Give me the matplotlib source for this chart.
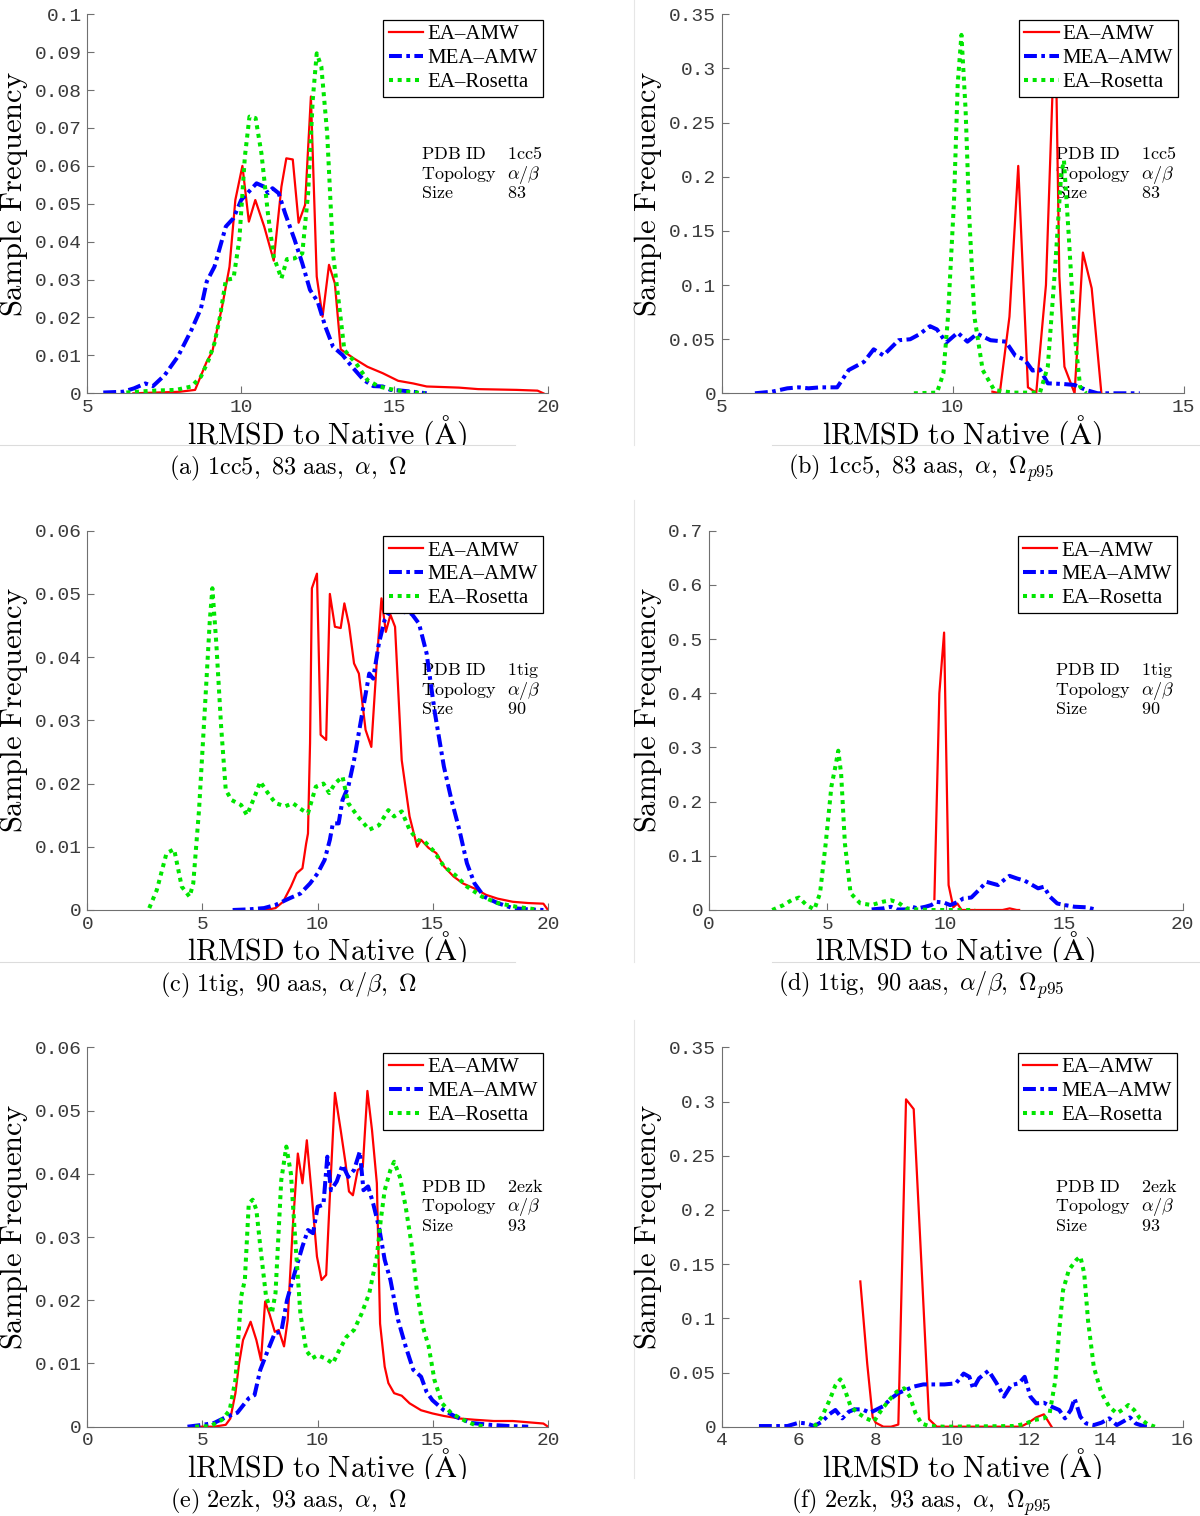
"""
Six-panel lRMSD sample-frequency figure (EA-AMW / MEA-AMW / EA-Rosetta).
Writes out.png at 1200x1516.
"""

import numpy as np
import matplotlib
matplotlib.use("Agg")
import matplotlib.pyplot as plt
from matplotlib.lines import Line2D
from matplotlib.transforms import Bbox, TransformedBbox

# ── data ─────────────────────────────────────────────────────────────────────
# (a) 1cc5, Omega
A_EA_X = [6.5, 8.0, 8.51, 8.89, 9.07, 9.39, 9.63, 9.82, 10.05, 10.26, 10.47, 10.76, 11.07, 11.32,
          11.48, 11.69, 11.88, 12.09, 12.28, 12.47, 12.66, 12.87, 13.06, 13.25, 13.68, 14.12,
          14.62, 15.12, 15.61, 16.05, 17.1, 17.73, 18.36, 18.98, 19.66, 19.85]
A_EA_Y = [0, 0.0004, 0.0009, 0.0084, 0.011, 0.0229, 0.0334, 0.051, 0.060, 0.0453, 0.051, 0.044,
          0.035, 0.0545, 0.062, 0.0617, 0.045, 0.0497, 0.0783, 0.0308, 0.0202, 0.0339, 0.029,
          0.0116, 0.0092, 0.007, 0.0053, 0.0033, 0.0026, 0.0018, 0.0015, 0.0011, 0.001, 0.0009,
          0.0007, 0.0]
A_MEA_X = [5.52, 6.15, 6.52, 6.89, 7.14, 7.52, 7.95, 8.39, 8.70, 8.89, 9.14, 9.51, 9.76, 10.01,
           10.26, 10.51, 10.76, 10.88, 11.03, 11.23, 11.44, 11.75, 12.0, 12.25, 12.5, 12.75, 13.0,
           13.31, 13.62, 14.0, 14.31, 14.62, 14.87, 15.24, 15.61, 16.05]
A_MEA_Y = [0.0002, 0.0004, 0.0013, 0.0026, 0.0019, 0.0048, 0.0097, 0.0167, 0.0224, 0.0295, 0.0334,
           0.044, 0.0462, 0.051, 0.0532, 0.0554, 0.0545, 0.0528, 0.0541, 0.0528, 0.0475, 0.0405,
           0.0343, 0.0273, 0.0242, 0.0176, 0.0123, 0.0101, 0.007, 0.0035, 0.0019, 0.0018, 0.0009,
           0.0007, 0.0004, 0.0]
A_ROS_X = [6.27, 7.14, 7.89, 8.39, 8.70, 8.95, 9.14, 9.32, 9.51, 9.76, 9.95, 10.13, 10.28, 10.48,
           10.67, 10.88, 11.07, 11.32, 11.5, 11.75, 12.0, 12.19, 12.34, 12.47, 12.62, 12.81, 13.0,
           13.18, 13.37, 13.75, 14.12, 14.49, 14.87, 15.37, 15.99]
A_ROS_Y = [0.0002, 0.0007, 0.0009, 0.0018, 0.0044, 0.0088, 0.0132, 0.0202, 0.0299, 0.0303, 0.0405,
           0.0624, 0.073, 0.0726, 0.0633, 0.0475, 0.036, 0.0303, 0.0354, 0.0356, 0.0369, 0.0528,
           0.0774, 0.0897, 0.0862, 0.0686, 0.0369, 0.0246, 0.0114, 0.0079, 0.0035, 0.0018, 0.0011,
           0.0004, 0.0]

# (b) 1cc5, Omega_p95
B_EA_X = [10.86, 11.02, 11.23, 11.42, 11.63, 11.81, 12.02, 12.17, 12.24, 12.31, 12.42, 12.64,
          12.82, 13.01, 13.22]
B_EA_Y = [0.0015, 0.0, 0.0708, 0.21, 0.0055, 0.0006, 0.10, 0.288, 0.30, 0.108, 0.0246, 0.0,
          0.13, 0.097, 0.0]
B_MEA_X = [5.72, 6.09, 6.42, 6.67, 6.88, 7.13, 7.50, 7.75, 8.08, 8.29, 8.50, 8.83, 9.08, 9.28,
           9.51, 9.66, 9.86, 10.11, 10.32, 10.53, 10.82, 11.15, 11.36, 11.56, 11.73, 11.89, 12.06,
           12.39, 12.64, 12.89, 13.14, 14.05]
B_MEA_Y = [0.0, 0.0015, 0.0046, 0.0055, 0.0046, 0.0055, 0.0055, 0.0215, 0.029, 0.0406, 0.035,
           0.049, 0.0499, 0.0545, 0.062, 0.059, 0.0468, 0.056, 0.0477, 0.055, 0.049, 0.0477,
           0.0345, 0.031, 0.021, 0.022, 0.0092, 0.0086, 0.0077, 0.003, 0.0, 0.0]
B_ROS_X = [9.16, 9.66, 9.80, 9.90, 10.03, 10.11, 10.19, 10.28, 10.36, 10.47, 10.65, 10.90, 11.31,
           11.89, 12.06, 12.22, 12.35, 12.41, 12.51, 12.64, 12.76, 12.89]
B_ROS_Y = [0.0, 0.0006, 0.0185, 0.071, 0.178, 0.286, 0.331, 0.262, 0.163, 0.071, 0.0215, 0.003,
           0.0006, 0.0006, 0.0246, 0.117, 0.203, 0.215, 0.148, 0.055, 0.006, 0.0]

# (c) 1tig, Omega
C_EA_X = [7.76, 8.17, 8.50, 8.84, 9.09, 9.34, 9.50, 9.58, 9.67, 9.75, 9.97, 10.13, 10.37, 10.53,
          10.75, 11.00, 11.16, 11.36, 11.58, 11.79, 12.08, 12.33, 12.57, 12.77, 12.96, 13.16,
          13.36, 13.65, 13.99, 14.32, 14.49, 14.82, 15.15, 15.48, 15.90, 16.31, 16.81, 17.31,
          17.81, 18.47, 19.14, 19.80, 20.0]
C_EA_Y = [0.0, 0.0003, 0.0013, 0.0037, 0.0058, 0.0066, 0.0105, 0.0121, 0.0264, 0.0509, 0.0532,
          0.0277, 0.0269, 0.050, 0.0448, 0.0446, 0.0485, 0.0451, 0.039, 0.0374, 0.0285, 0.0258,
          0.0395, 0.0493, 0.044, 0.0467, 0.0448, 0.0237, 0.0148, 0.010, 0.0111, 0.0098, 0.009,
          0.0069, 0.0053, 0.0042, 0.0034, 0.0024, 0.0018, 0.0013, 0.0011, 0.001, 0.0]
C_MEA_X = [6.31, 7.01, 7.67, 8.17, 8.75, 9.25, 9.67, 10.0, 10.30, 10.53, 10.66, 10.91, 11.08,
           11.33, 11.58, 11.91, 12.24, 12.41, 12.66, 12.91, 13.16, 13.65, 14.07, 14.40, 14.73,
           15.07, 15.48, 15.81, 16.15, 16.48, 16.81, 17.23, 17.81, 18.47, 19.14, 19.80]
C_MEA_Y = [0.0, 0.0001, 0.0003, 0.0008, 0.0018, 0.0026, 0.0042, 0.0058, 0.0079, 0.0111, 0.0137,
           0.0137, 0.0174, 0.0195, 0.0237, 0.0306, 0.0374, 0.0366, 0.0422, 0.0459, 0.0474, 0.0472,
           0.0469, 0.0453, 0.0406, 0.0316, 0.0227, 0.0174, 0.0127, 0.0074, 0.0042, 0.0021,
           0.0011, 0.0003, 0.0001, 0.0]
C_ROS_X = [2.69, 3.02, 3.44, 3.77, 4.10, 4.44, 4.60, 4.85, 5.10, 5.32, 5.43, 5.60, 5.81, 6.01,
           6.26, 6.68, 6.93, 7.26, 7.51, 7.84, 8.17, 8.59, 8.92, 9.34, 9.58, 9.92, 10.25, 10.50,
           10.75, 11.08, 11.33, 11.74, 12.24, 12.66, 13.07, 13.32, 13.65, 13.99, 14.32, 14.65,
           15.07, 15.48, 15.98, 16.48, 17.14, 17.81, 18.64, 19.47]
C_ROS_Y = [0.0003, 0.0032, 0.009, 0.0096, 0.0037, 0.0021, 0.0042, 0.0158, 0.0316, 0.0459, 0.0509,
           0.0422, 0.029, 0.019, 0.0174, 0.0166, 0.015, 0.0179, 0.0203, 0.0185, 0.0169, 0.0164,
           0.0169, 0.0158, 0.0153, 0.0195, 0.020, 0.0185, 0.020, 0.0211, 0.0169, 0.0148, 0.0127,
           0.0134, 0.0158, 0.0148, 0.0156, 0.0127, 0.0111, 0.0108, 0.0092, 0.0069, 0.0055,
           0.0037, 0.0021, 0.0011, 0.0005, 0.0001]

# (d) 1tig, Omega_p95
D_EA_X = [9.52, 9.73, 9.93, 10.12, 10.32, 10.49, 10.67, 12.4, 12.7, 13.0, 13.1]
D_EA_Y = [0.02, 0.40, 0.512, 0.046, 0.005, 0.012, 0.0, 0.0, 0.003, 0.0, 0.0]
D_MEA_X = [6.87, 7.36, 7.68, 7.92, 8.33, 8.57, 8.81, 9.14, 9.38, 9.62, 9.94, 10.19, 10.51, 10.75,
           11.08, 11.40, 11.72, 11.96, 12.21, 12.45, 12.69, 13.02, 13.34, 13.66, 13.90, 14.15,
           14.39, 14.71, 15.04, 15.44, 15.93, 16.41]
D_MEA_Y = [0.001, 0.003, 0.006, 0.001, 0.001, 0.006, 0.003, 0.006, 0.009, 0.015, 0.0135, 0.009,
           0.015, 0.0215, 0.023, 0.037, 0.052, 0.049, 0.046, 0.055, 0.063, 0.058, 0.054, 0.046,
           0.040, 0.043, 0.025, 0.012, 0.009, 0.006, 0.005, 0.0]
D_ROS_X = [2.67, 3.15, 3.48, 3.80, 4.12, 4.45, 4.69, 4.93, 5.17, 5.34, 5.46, 5.58, 5.74, 5.98,
           6.39, 6.87, 7.36, 7.68, 8.00, 8.33, 8.81, 9.46, 11.24]
D_ROS_Y = [0.0, 0.0092, 0.018, 0.023, 0.009, 0.001, 0.031, 0.123, 0.228, 0.265, 0.294, 0.252,
           0.123, 0.031, 0.0123, 0.0092, 0.0154, 0.018, 0.0135, 0.003, 0.001, 0.0, 0.0]

# (e) 2ezk, Omega
E_EA_X = [4.52, 5.51, 6.01, 6.21, 6.43, 6.59, 6.76, 7.09, 7.34, 7.54, 7.72, 7.92, 8.14, 8.31,
          8.54, 8.70, 8.92, 9.14, 9.34, 9.53, 9.75, 9.97, 10.17, 10.37, 10.53, 10.75, 11.00,
          11.21, 11.36, 11.53, 11.74, 11.96, 12.16, 12.36, 12.57, 12.71, 12.91, 13.07, 13.32,
          13.65, 13.99, 14.49, 14.98, 15.48, 16.15, 16.81, 17.64, 18.47, 19.14, 19.80, 20.0]
E_EA_Y = [0.0, 0.0, 0.0003, 0.0013, 0.0053, 0.010, 0.0137, 0.0166, 0.0137, 0.0105, 0.0198, 0.0177,
          0.015, 0.0153, 0.0127, 0.0169, 0.0316, 0.0432, 0.0385, 0.0453, 0.0364, 0.0269, 0.0232,
          0.024, 0.0364, 0.0528, 0.0469, 0.0417, 0.0372, 0.0366, 0.0406, 0.0411, 0.0531, 0.0469,
          0.0385, 0.0163, 0.0095, 0.0069, 0.0053, 0.0049, 0.0037, 0.0026, 0.0021, 0.0017, 0.0013,
          0.0011, 0.0009, 0.0009, 0.0007, 0.0005, 0.0]
E_MEA_X = [4.35, 5.02, 5.51, 6.01, 6.51, 7.01, 7.26, 7.51, 7.84, 8.14, 8.42, 8.67, 9.00, 9.34,
           9.58, 9.80, 10.0, 10.25, 10.42, 10.58, 10.83, 11.08, 11.33, 11.58, 11.83, 11.99, 12.19,
           12.41, 12.66, 12.91, 13.16, 13.49, 13.82, 14.15, 14.49, 14.73, 14.98, 15.48, 15.98,
           16.64, 17.48, 18.31, 19.14]
E_MEA_Y = [0.0, 0.0003, 0.0006, 0.0015, 0.0022, 0.0045, 0.005, 0.009, 0.0121, 0.0148, 0.015,
           0.020, 0.0243, 0.0285, 0.0311, 0.0306, 0.0348, 0.0351, 0.0427, 0.0374, 0.0388, 0.0414,
           0.0395, 0.0406, 0.0435, 0.0374, 0.038, 0.0353, 0.0316, 0.0264, 0.0232, 0.0169, 0.0127,
           0.009, 0.0079, 0.0055, 0.0042, 0.0026, 0.0016, 0.0006, 0.0003, 0.0001, 0.0]
E_ROS_X = [4.68, 5.35, 5.85, 6.18, 6.43, 6.68, 6.84, 7.01, 7.18, 7.34, 7.51, 7.76, 8.01, 8.17,
           8.42, 8.64, 8.84, 9.00, 9.25, 9.50, 9.75, 10.0, 10.33, 10.66, 10.91, 11.25, 11.58,
           11.91, 12.24, 12.57, 12.74, 12.91, 13.16, 13.32, 13.57, 13.82, 14.07, 14.32, 14.57,
           14.82, 15.07, 15.40, 15.81, 16.31, 16.81, 17.31]
E_ROS_Y = [0.0, 0.0001, 0.0011, 0.0026, 0.0074, 0.0206, 0.0232, 0.0353, 0.0359, 0.0343, 0.0285,
           0.0206, 0.0179, 0.0211, 0.039, 0.0443, 0.040, 0.0311, 0.0179, 0.0121, 0.0108, 0.0113,
           0.0108, 0.010, 0.0119, 0.0142, 0.0153, 0.0179, 0.0211, 0.0269, 0.0327, 0.0374, 0.0406,
           0.0419, 0.0395, 0.0348, 0.029, 0.0211, 0.0158, 0.0127, 0.0074, 0.0037, 0.0021, 0.0011,
           0.0003, 0.0]

# (f) 2ezk, Omega_p95
F_EA_X = [7.61, 7.79, 7.93, 8.01, 8.21, 8.41, 8.60, 8.80, 9.00, 9.20, 9.40, 9.60, 11.79, 11.99,
          12.19, 12.39, 12.59]
F_EA_Y = [0.134, 0.058, 0.009, 0.0037, 0.0, 0.0, 0.002, 0.302, 0.293, 0.151, 0.0068, 0.0, 0.0,
          0.0037, 0.0086, 0.0114, 0.0]
F_MEA_X = [4.97, 5.32, 5.71, 6.01, 6.21, 6.41, 6.61, 6.81, 6.96, 7.14, 7.31, 7.46, 7.66, 7.86,
           8.01, 8.21, 8.41, 8.60, 8.80, 9.00, 9.25, 9.50, 9.80, 10.10, 10.30, 10.45, 10.55,
           10.70, 10.95, 11.15, 11.35, 11.54, 11.74, 11.89, 12.04, 12.19, 12.39, 12.59, 12.79,
           12.94, 13.09, 13.19, 13.34, 13.49, 13.69, 13.89, 14.09, 14.29, 14.49, 14.63, 14.78,
           14.98, 15.18]
F_MEA_Y = [0.0006, 0.0006, 0.0006, 0.0037, 0.003, 0.0006, 0.0046, 0.0117, 0.0154, 0.0077, 0.0138,
           0.016, 0.016, 0.0129, 0.0154, 0.019, 0.026, 0.031, 0.034, 0.037, 0.039, 0.039, 0.039,
           0.040, 0.049, 0.046, 0.035, 0.0446, 0.0517, 0.0406, 0.0277, 0.0384, 0.040, 0.046,
           0.0277, 0.0215, 0.0221, 0.0185, 0.0154, 0.0077, 0.0154, 0.026, 0.0092, 0.003, 0.0015,
           0.0037, 0.0077, 0.0015, 0.0055, 0.0086, 0.003, 0.0006, 0.0]
F_ROS_X = [6.41, 6.61, 6.81, 6.96, 7.09, 7.21, 7.36, 7.56, 7.76, 7.96, 8.16, 8.36, 8.56, 8.75,
           8.90, 9.05, 9.20, 9.40, 9.80, 11.59, 11.89, 12.14, 12.39, 12.54, 12.69, 12.79, 12.89,
           13.04, 13.24, 13.34, 13.44, 13.54, 13.69, 13.89, 14.09, 14.29, 14.49, 14.59, 14.74,
           14.89, 15.08, 15.28]
F_ROS_Y = [0.0, 0.0092, 0.0246, 0.038, 0.0437, 0.0338, 0.0185, 0.0123, 0.0077, 0.0046, 0.0154,
           0.0246, 0.0323, 0.0354, 0.0277, 0.0123, 0.003, 0.0006, 0.0, 0.0006, 0.0025, 0.0062,
           0.0077, 0.0123, 0.043, 0.089, 0.126, 0.1446, 0.154, 0.157, 0.1415, 0.098, 0.055, 0.031,
           0.0185, 0.0123, 0.0169, 0.020, 0.0154, 0.0077, 0.0025, 0.0]

METHODS = ["EA\u2013AMW", "MEA\u2013AMW", "EA\u2013Rosetta"]
PDB_IDS = ["1cc5", "1cc5", "1tig", "1tig", "2ezk", "2ezk"]
SIZES = ["83", "83", "90", "90", "93", "93"]
CAPTIONS = [
    r"$\mathrm{(a)\ 1cc5,\ 83\ aas,}\ \alpha,\ \Omega$",
    r"$\mathrm{(b)\ 1cc5,\ 83\ aas,}\ \alpha,\ \Omega_{p95}$",
    r"$\mathrm{(c)\ 1tig,\ 90\ aas,}\ \alpha/\beta,\ \Omega$",
    r"$\mathrm{(d)\ 1tig,\ 90\ aas,}\ \alpha/\beta,\ \Omega_{p95}$",
    r"$\mathrm{(e)\ 2ezk,\ 93\ aas,}\ \alpha,\ \Omega$",
    r"$\mathrm{(f)\ 2ezk,\ 93\ aas,}\ \alpha,\ \Omega_{p95}$",
]

# ── style ────────────────────────────────────────────────────────────────────
RED = "#ff0000"
BLUE = "#0000ff"
GREEN = "#00e600"
SPINE = "#707070"
TICKTXT = "#3a3a3a"

plt.rcParams["mathtext.fontset"] = "cm"
plt.rcParams["font.family"] = ["Liberation Mono", "DejaVu Sans Mono"]

W, H = 1200, 1516

# pixel boxes (left, top, right, bottom) and axis settings per panel
PANELS = [
    dict(rect=(87.3, 14.3, 548.0, 393.3), xlim=(5, 20), xstep=5, ylim=(0, 0.1), ystep=0.01,
         data=[(A_EA_X, A_EA_Y), (A_MEA_X, A_MEA_Y), (A_ROS_X, A_ROS_Y)]),
    dict(rect=(721.7, 14.3, 1183.6, 393.3), xlim=(5, 15), xstep=5, ylim=(0, 0.35), ystep=0.05,
         data=[(B_EA_X, B_EA_Y), (B_MEA_X, B_MEA_Y), (B_ROS_X, B_ROS_Y)]),
    dict(rect=(87.3, 530.7, 548.0, 910.0), xlim=(0, 20), xstep=5, ylim=(0, 0.06), ystep=0.01,
         data=[(C_EA_X, C_EA_Y), (C_MEA_X, C_MEA_Y), (C_ROS_X, C_ROS_Y)]),
    dict(rect=(709.0, 530.7, 1182.5, 910.0), xlim=(0, 20), xstep=5, ylim=(0, 0.7), ystep=0.1,
         data=[(D_EA_X, D_EA_Y), (D_MEA_X, D_MEA_Y), (D_ROS_X, D_ROS_Y)]),
    dict(rect=(87.3, 1047.3, 548.0, 1426.7), xlim=(0, 20), xstep=5, ylim=(0, 0.06), ystep=0.01,
         data=[(E_EA_X, E_EA_Y), (E_MEA_X, E_MEA_Y), (E_ROS_X, E_ROS_Y)]),
    dict(rect=(721.7, 1047.3, 1182.5, 1426.7), xlim=(4, 16), xstep=2, ylim=(0, 0.35), ystep=0.05,
         data=[(F_EA_X, F_EA_Y), (F_MEA_X, F_MEA_Y), (F_ROS_X, F_ROS_Y)]),
]

LINE_STYLES = [
    dict(color=RED, lw=1.6, linestyle="-"),
    dict(color=BLUE, lw=2.9, linestyle=(0, (3.2, 1.1, 0.9, 1.1))),
    dict(color=GREEN, lw=2.9, linestyle=(0, (1.0, 1.15))),
]


def fx(px):
    return px / W


def fy(py):
    return 1 - py / H


fig = plt.figure(figsize=(W / 100, H / 100), dpi=100)
fig.patch.set_facecolor("white")

# faint sub-image borders, as in the composed figure
for y in (445, 962):
    fig.add_artist(Line2D([0, fx(515)], [fy(y), fy(y)], transform=fig.transFigure,
                          color="#dcdcdc", lw=0.8))
    fig.add_artist(Line2D([fx(772), 1], [fy(y), fy(y)], transform=fig.transFigure,
                          color="#dcdcdc", lw=0.8))
for y0, y1 in ((0, 445), (500, 962), (1020, 1478)):
    fig.add_artist(Line2D([fx(634), fx(634)], [fy(y0), fy(y1)], transform=fig.transFigure,
                          color="#e6e6e6", lw=0.8))

for i, p in enumerate(PANELS):
    x0, yt, x1, yb = p["rect"]
    ax = fig.add_axes([fx(x0), fy(yb), (x1 - x0) / W, (yb - yt) / H])

    for (xs, ys), style, name in zip(p["data"], LINE_STYLES, METHODS):
        ax.plot(xs, ys, label=name, **style)

    ax.set_xlim(*p["xlim"])
    ax.set_ylim(*p["ylim"])
    xt = np.arange(p["xlim"][0], p["xlim"][1] + 1e-9, p["xstep"])
    yt_ = np.arange(p["ylim"][0], p["ylim"][1] + 1e-9, p["ystep"])
    ax.set_xticks(xt)
    ax.set_xticklabels([f"{v:g}" for v in xt])
    ax.set_yticks(yt_)
    ax.set_yticklabels([f"{round(v, 4):g}" for v in yt_])

    for s in ("top", "right"):
        ax.spines[s].set_visible(False)
    for s in ("left", "bottom"):
        ax.spines[s].set_color(SPINE)
        ax.spines[s].set_linewidth(0.8)
    ax.tick_params(direction="in", length=5, width=0.8, color=SPINE,
                   labelcolor=TICKTXT, labelsize=14)
    ax.tick_params(axis="x", pad=4)
    ax.tick_params(axis="y", pad=4)

    leg = ax.legend(loc="upper right", prop={"family": "Liberation Serif", "size": 15},
                    fancybox=False, edgecolor="black", framealpha=1, borderpad=0.25,
                    labelspacing=0.2, handlelength=1.65, handletextpad=0.2,
                    borderaxespad=0.25)
    leg.get_frame().set_linewidth(0.9)

    # PDB info block
    left_col = 421 if i % 2 == 0 else 1055
    base = yt + 144.7
    rows = [(r"$\mathrm{PDB\ ID}$", r"$\mathrm{%s}$" % PDB_IDS[i]),
            (r"$\mathrm{Topology}$", r"$\alpha/\beta$"),
            (r"$\mathrm{Size}$", r"$\mathrm{%s}$" % SIZES[i])]
    for k, (lab, val) in enumerate(rows):
        yy = fy(base + k * 19.5)
        ax.text(fx(left_col), yy, lab, transform=fig.transFigure, fontsize=13,
                va="baseline", ha="left", zorder=1)
        ax.text(fx(left_col + 86), yy, val, transform=fig.transFigure, fontsize=13,
                va="baseline", ha="left", zorder=1)

    # axis labels
    ylab_x = 14.5 if i % 2 == 0 else 648
    fig.text(fx(ylab_x), fy((yt + yb) / 2 - 10), r"$\mathrm{Sample\ Frequency}$",
             rotation=90, ha="center", va="center", fontsize=22)
    xl_base = yb + 50
    xl = fig.text(fx((x0 + x1) / 2 + 9.5), fy(xl_base), r"$\mathrm{lRMSD\ to\ Native\ (Å)}$",
                  ha="center", va="baseline", fontsize=21.5)
    clip = TransformedBbox(Bbox.from_extents(0, fy(xl_base + 2), 1, 1), fig.transFigure)
    xl.set_clip_box(clip)
    xl.set_clip_on(True)

    # sub-caption
    cap_x = 288 if i % 2 == 0 else 921
    fig.text(fx(cap_x), fy(yb + 75), CAPTIONS[i], ha="center", va="center", fontsize=17.5)

fig.savefig("out.png", dpi=100)
